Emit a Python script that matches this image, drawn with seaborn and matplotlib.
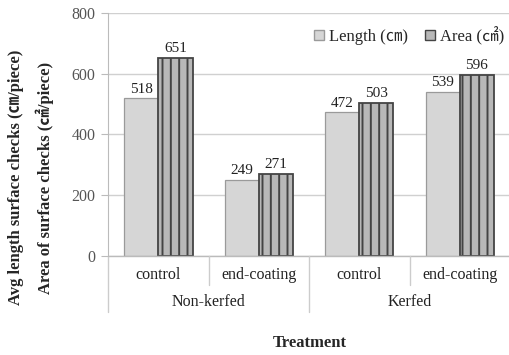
import matplotlib
matplotlib.use("Agg")
import matplotlib.pyplot as plt
import seaborn as sns
import pandas as pd
from matplotlib.patches import Patch

groups = ["Non-kerfed", "Non-kerfed", "Kerfed", "Kerfed"]
treatments = ["control", "end-coating", "control", "end-coating"]
length_vals = [518, 249, 472, 539]
area_vals = [651, 271, 503, 596]
series_names = ["Length (㎝)", "Area (㎠)"]
yticks = [0, 200, 400, 600, 800]

keys = [f"{g}|{t}" for g, t in zip(groups, treatments)]
df = pd.DataFrame({
    "key": keys * 2,
    "value": length_vals + area_vals,
    "series": [series_names[0]] * 4 + [series_names[1]] * 4,
})

sns.set_style("white")
FAM = ["Liberation Serif", "Noto Sans CJK JP", "DejaVu Sans"]
plt.rcParams["font.family"] = FAM
plt.rcParams["hatch.linewidth"] = 1.4

fig = plt.figure(figsize=(5.10, 3.55), dpi=100)
ax = fig.add_axes([0.212, 0.279, 0.788, 0.685])

sns.barplot(data=df, x="key", y="value", hue="series", order=keys,
            hue_order=series_names, palette=["#d6d6d6", "#b8b8b8"],
            width=0.68, gap=0, ax=ax, legend=False, errorbar=None)

n = len(keys)
for i, p in enumerate(ax.patches[:2 * n]):
    if i < n:
        p.set_edgecolor("#9a9a9a")
        p.set_linewidth(0.9)
    else:
        p.set_edgecolor("#444444")
        p.set_hatch("||")
        p.set_linewidth(1.3)

for c in ax.containers:
    ax.bar_label(c, fmt="%d", padding=2, fontsize=11, color="#222222")

ax.set_ylim(0, 800)
ax.set_xlim(-0.5, n - 0.5)
ax.set_yticks(yticks)
ax.set_yticklabels([str(v) for v in yticks], fontsize=11.5, color="#555555")
ax.yaxis.grid(True, color="#d0d0d0", linewidth=1.0)
ax.set_axisbelow(True)
ax.tick_params(axis="y", length=5, color="#bbbbbb", left=True, pad=4)
ax.set_xticks([])
ax.set_xlabel("")
ax.set_ylabel("")
for s in ["top", "right", "bottom"]:
    ax.spines[s].set_visible(False)
ax.spines["left"].set_color("#bbbbbb")
ax.axhline(0, color="#bbbbbb", linewidth=1.0, clip_on=False)

trans = ax.get_xaxis_transform()
short = -0.12
full = -0.23
for xb in [-0.5, 1.5, 3.5]:
    ax.plot([xb, xb], [0, full], transform=trans, color="#cccccc",
            linewidth=1.0, clip_on=False)
for xb in [0.5, 2.5]:
    ax.plot([xb, xb], [0, short], transform=trans, color="#cccccc",
            linewidth=1.0, clip_on=False)
for i, t in enumerate(treatments):
    ax.text(i, -0.08, t, transform=trans, ha="center", va="center",
            fontsize=11.5, color="#222222")
for j, g in enumerate(["Non-kerfed", "Kerfed"]):
    ax.text(2 * j + 0.5, -0.19, g, transform=trans, ha="center",
            va="center", fontsize=11.5, color="#222222")

fig.text(0.608, 0.034, "Treatment", ha="center", va="center",
         fontsize=12, fontweight="bold")
fig.text(0.032, 0.50, "Avg length surface checks (㎝/piece)", rotation=90,
         ha="center", va="center", fontsize=12, fontweight="bold")
fig.text(0.088, 0.50, "Area of surface checks (㎠/piece)", rotation=90,
         ha="center", va="center", fontsize=12, fontweight="bold")

handles = [Patch(facecolor="#d6d6d6", edgecolor="#9a9a9a"),
           Patch(facecolor="#b8b8b8", edgecolor="#444444", hatch="|")]
ax.legend(handles, series_names, loc="upper right", bbox_to_anchor=(1.01, 0.985),
          ncol=2, frameon=False, fontsize=12, handlelength=0.6,
          handleheight=0.6, columnspacing=1.0, handletextpad=0.3,
          borderaxespad=0.2)

fig.savefig("out.png", dpi=100)
